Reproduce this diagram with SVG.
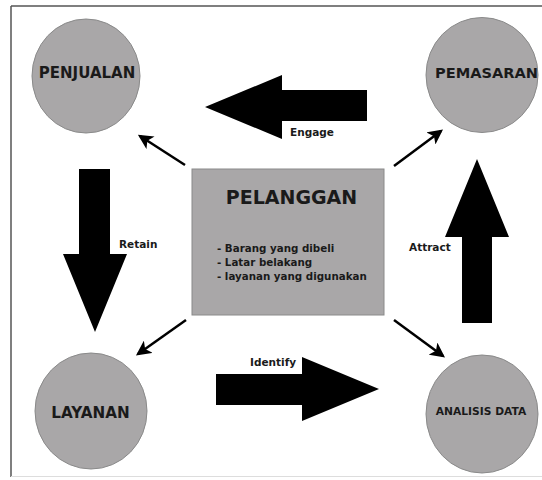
<svg xmlns="http://www.w3.org/2000/svg" width="542" height="480" viewBox="0 0 542 480">
<defs>
<style>
.node{fill:#a9a7a8;stroke:#8a8a8a;stroke-width:1}
.t{font-family:"DejaVu Sans",sans-serif;font-weight:bold;fill:#1a1a1a}
.big{fill:#000}
.thin{stroke:#000;stroke-width:2.5;fill:none;marker-end:url(#ah)}
</style>
<marker id="ah" viewBox="0 0 12 12" refX="10" refY="6" markerWidth="6" markerHeight="6" markerUnits="strokeWidth" orient="auto">
<path d="M0,0 L12,6 L0,12 L3,6 Z" fill="#000"/>
</marker>
</defs>
<rect x="0" y="0" width="542" height="480" fill="#fff"/>
<g id="frame">
<line x1="11" y1="6" x2="542" y2="6" stroke="#555" stroke-width="1.5"/>
<line x1="11" y1="6" x2="11" y2="477" stroke="#555" stroke-width="1.5"/>
<line x1="11" y1="476.5" x2="542" y2="476.5" stroke="#ddd" stroke-width="1"/>
</g>
<g id="connectors">
<path class="big" d="M367,90 L282,90 L282,75 L205,107 L282,139 L282,121 L367,121 Z"/>
<path class="big" d="M79,169 L110,169 L110,254 L127,254 L95,332 L63,254 L79,254 Z"/>
<path class="big" d="M462,323 L492,323 L492,237 L509,237 L477,159 L445,237 L462,237 Z"/>
<path class="big" d="M216,374 L302,374 L302,357 L379,389 L302,421 L302,405 L216,405 Z"/>
<line class="thin" x1="185" y1="165" x2="140" y2="136"/>
<line class="thin" x1="394" y1="166" x2="441" y2="131"/>
<line class="thin" x1="186" y1="320" x2="138" y2="354"/>
<line class="thin" x1="394" y1="320" x2="443" y2="356"/>
<text class="t" x="290" y="136" font-size="10.5">Engage</text>
<text class="t" x="119" y="248" font-size="10.5">Retain</text>
<text class="t" x="409" y="251" font-size="10.5">Attract</text>
<text class="t" x="250" y="366" font-size="10.5">Identify</text>
</g>
<g id="pelanggan">
<rect class="node" x="192" y="169" width="192" height="146"/>
<text class="t" x="291.5" y="204" font-size="19" text-anchor="middle">PELANGGAN</text>
<text class="t" x="217" y="252" font-size="10.3">- Barang yang dibeli</text>
<text class="t" x="217" y="266" font-size="10.3">- Latar belakang</text>
<text class="t" x="217" y="280" font-size="10.3">- layanan yang digunakan</text>
</g>
<g id="penjualan">
<ellipse class="node" cx="86" cy="76" rx="54" ry="57"/>
<text class="t" x="87" y="78" font-size="15" text-anchor="middle">PENJUALAN</text>
</g>
<g id="pemasaran">
<ellipse class="node" cx="482" cy="75" rx="56" ry="57.5"/>
<text class="t" x="486.5" y="78" font-size="14.6" text-anchor="middle">PEMASARAN</text>
</g>
<g id="layanan">
<ellipse class="node" cx="91" cy="411" rx="56" ry="58"/>
<text class="t" x="90.5" y="418" font-size="15.2" text-anchor="middle">LAYANAN</text>
</g>
<g id="analisis">
<ellipse class="node" cx="482" cy="414" rx="56" ry="59"/>
<text class="t" x="481" y="415" font-size="10.7" text-anchor="middle">ANALISIS DATA</text>
</g>
</svg>
